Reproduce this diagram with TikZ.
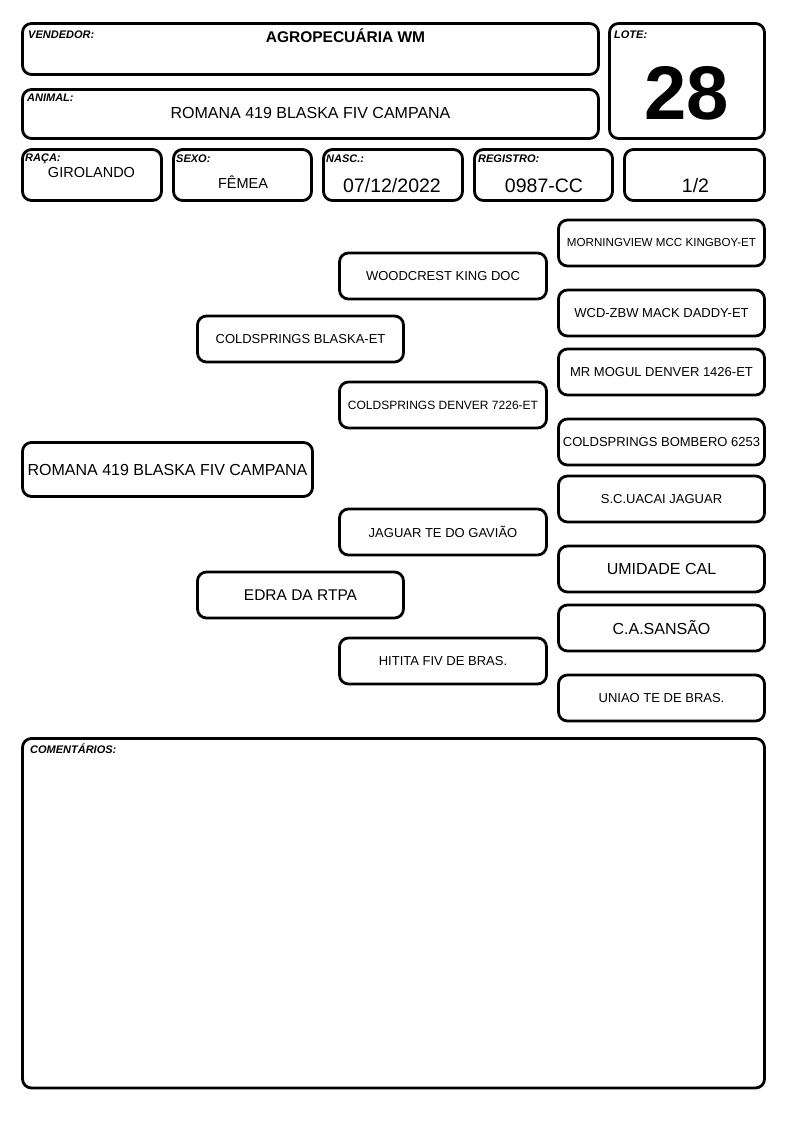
\documentclass[tikz,border=0pt]{standalone}
\usepackage{fontspec}
\setmainfont{Liberation Sans}
\newcommand{\fsz}[1]{\fontsize{#1}{#1}\selectfont}
\begin{document}
\begin{tikzpicture}[x=1pt,y=-1pt,
  bx/.style={draw, line width=2.8pt, rounded corners=9pt, inner sep=0pt},
  lbl/.style={font=\fsz{11}\bfseries\itshape, anchor=base west, inner sep=0pt},
  val/.style={anchor=base, inner sep=0pt},
  pw/.style={bx, minimum width=206pt, minimum height=46pt},
  pm/.style={bx, minimum width=207pt, minimum height=46pt}]
\useasboundingbox (0,0) rectangle (794,1123);
% header boxes
\node[bx, minimum width=576pt, minimum height=51pt] (vend) at (310.5,49) {};
\node[bx, minimum width=576pt, minimum height=49pt] (anim) at (310.5,114) {};
\node[bx, minimum width=155pt, minimum height=115pt] (lote) at (687,81) {};
\node[bx, minimum width=139pt, minimum height=51pt] (raca) at (92,175) {};
\node[bx, minimum width=138pt, minimum height=51pt] (sexo) at (242.5,175) {};
\node[bx, minimum width=139pt, minimum height=51pt] (nasc) at (393,175) {};
\node[bx, minimum width=138pt, minimum height=51pt] (reg) at (543.5,175) {};
\node[bx, minimum width=140pt, minimum height=51pt] (half) at (694.5,175) {};
% header labels
\node[lbl] (vendL) at (28,39) {VENDEDOR:};
\node[lbl] (animL) at (27,102) {ANIMAL:};
\node[lbl] (loteL) at (614,39) {LOTE:};
\node[lbl] (racaL) at (25,162) {RAÇA:};
\node[lbl] (sexoL) at (176,163) {SEXO:};
\node[lbl] (nascL) at (326,163) {NASC.:};
\node[lbl] (regL) at (478,163) {REGISTRO:};
% header values
\node[val, font=\fsz{15.5}\bfseries] (vendV) at (345.5,43) {AGROPECUÁRIA WM};
\node[val, font=\fsz{16}] (animV) at (310.5,119) {ROMANA 419 BLASKA FIV CAMPANA};
\node[val, font=\fsz{76}\bfseries] (loteV) at (686.5,120) {28};
\node[val, font=\fsz{14.5}] (racaV) at (91.5,178) {GIROLANDO};
\node[val, font=\fsz{14.5}] (sexoV) at (243,189) {FÊMEA};
\node[val, font=\fsz{19.5}] (nascV) at (392,193) {07/12/2022};
\node[val, font=\fsz{19.5}] (regV) at (544,193) {0987-CC};
\node[val, font=\fsz{19.5}] (halfV) at (695.5,193) {1/2};
% pedigree
\node[bx, minimum width=290pt, minimum height=54pt, font=\fsz{16}] (an) at (167.5,469.5) {ROMANA 419 BLASKA FIV CAMPANA};
\node[pw, font=\fsz{13}] (sire) at (300.5,339) {COLDSPRINGS BLASKA-ET};
\node[pw, font=\fsz{15.5}] (dam) at (300.5,595) {EDRA DA RTPA};
\node[pm, font=\fsz{13}] (ss) at (443,276) {WOODCREST KING DOC};
\node[pm, font=\fsz{12}] (sd) at (443,405) {COLDSPRINGS DENVER 7226-ET};
\node[pm, font=\fsz{13}] (ds) at (443,532) {JAGUAR TE DO GAVIÃO};
\node[pm, font=\fsz{13}] (dd) at (443,661) {HITITA FIV DE BRAS.};
\node[pw, font=\fsz{11.6}] (sss) at (661.5,243) {MORNINGVIEW MCC KINGBOY-ET};
\node[pw, font=\fsz{13}] (ssd) at (661.5,313) {WCD-ZBW MACK DADDY-ET};
\node[pw, font=\fsz{13}] (sds) at (661.5,372) {MR MOGUL DENVER 1426-ET};
\node[pw, font=\fsz{13}] (sdd) at (661.5,442) {COLDSPRINGS BOMBERO 6253};
\node[pw, font=\fsz{13}] (dss) at (661.5,499) {S.C.UACAI JAGUAR};
\node[pw, font=\fsz{16}] (dsd) at (661.5,569) {UMIDADE CAL};
\node[pw, font=\fsz{16}] (dds) at (661.5,628) {C.A.SANSÃO};
\node[pw, font=\fsz{13}] (ddd) at (661.5,698) {UNIAO TE DE BRAS.};
% comments
\node[bx, minimum width=742pt, minimum height=349.5pt] (com) at (393.5,913.25) {};
\node[lbl] (comL) at (30,753) {COMENTÁRIOS:};
\end{tikzpicture}
\end{document}
